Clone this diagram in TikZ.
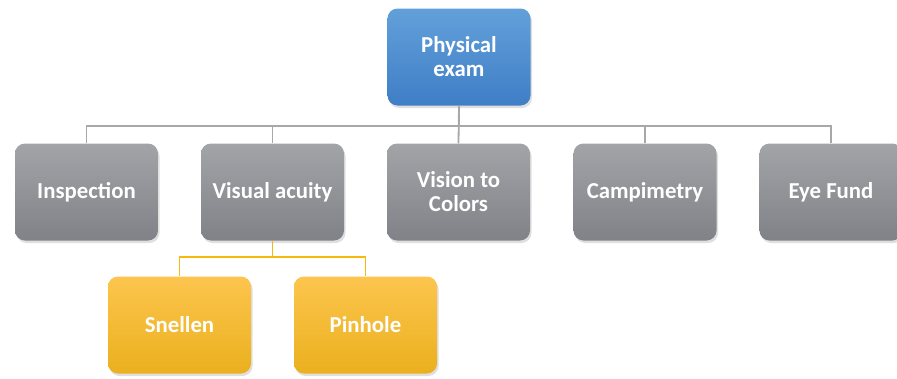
\documentclass[tikz,border=0pt]{standalone}
\usepackage{fontspec}
\setmainfont{Carlito}
\usetikzlibrary{positioning, shadows}
\definecolor{blueTop}{HTML}{62A0DA}
\definecolor{blueBot}{HTML}{3F7EC6}
\definecolor{grayTop}{HTML}{A2A4A8}
\definecolor{grayBot}{HTML}{808287}
\definecolor{yellowTop}{HTML}{FDC54E}
\definecolor{yellowBot}{HTML}{EAB01E}
\definecolor{grayLine}{HTML}{A8A8A8}
\definecolor{yellowLine}{HTML}{F7B90F}

\begin{document}
\begin{tikzpicture}[
		x = 1pt, y = -1pt,
		box/.style = {rectangle, rounded corners = 10pt, text = white, align = center,
			font = \bfseries\fontsize{22.8}{24}\selectfont,
			minimum width = 143pt, minimum height = 97pt, inner sep = 0pt,
			drop shadow = {opacity = 0.25, shadow xshift = 1.5pt, shadow yshift = -2.5pt}},
		topbox/.style = {box, top color = blueTop, bottom color = blueBot},
		midbox/.style = {box, top color = grayTop, bottom color = grayBot},
		leafbox/.style = {box, top color = yellowTop, bottom color = yellowBot},
		grayLink/.style = {draw = grayLine, line width = 1.8pt},
		yellowLink/.style = {draw = yellowLine, line width = 1.8pt},
	]
	\useasboundingbox (0,0) rectangle (897,378);

	\node[topbox](PE) at (459,57){Physical\\exam};

	\node[midbox](Insp) at (86.5,192){Inspection};
	\node[midbox](VA) at (272.5,192){Visual acuity};
	\node[midbox](VC) at (458.5,192){Vision to\\Colors};
	\node[midbox](Camp) at (645,192){Campimetry};
	\node[midbox](EF) at (831,192){Eye Fund};

	\node[leafbox](Sn) at (179.5,325){Snellen};
	\node[leafbox](Ph) at (365.5,325){Pinhole};

	\draw[grayLink](PE.south) -- ++(0,20) -| (Insp.north);
	\draw[grayLink](PE.south) -- ++(0,20) -| (VA.north);
	\draw[grayLink](PE.south) -- (VC.north);
	\draw[grayLink](PE.south) -- ++(0,20) -| (Camp.north);
	\draw[grayLink](PE.south) -- ++(0,20) -| (EF.north);

	\draw[yellowLink](VA.south) -- ++(0,16) -| (Sn.north);
	\draw[yellowLink](VA.south) -- ++(0,16) -| (Ph.north);

\end{tikzpicture}
\end{document}
